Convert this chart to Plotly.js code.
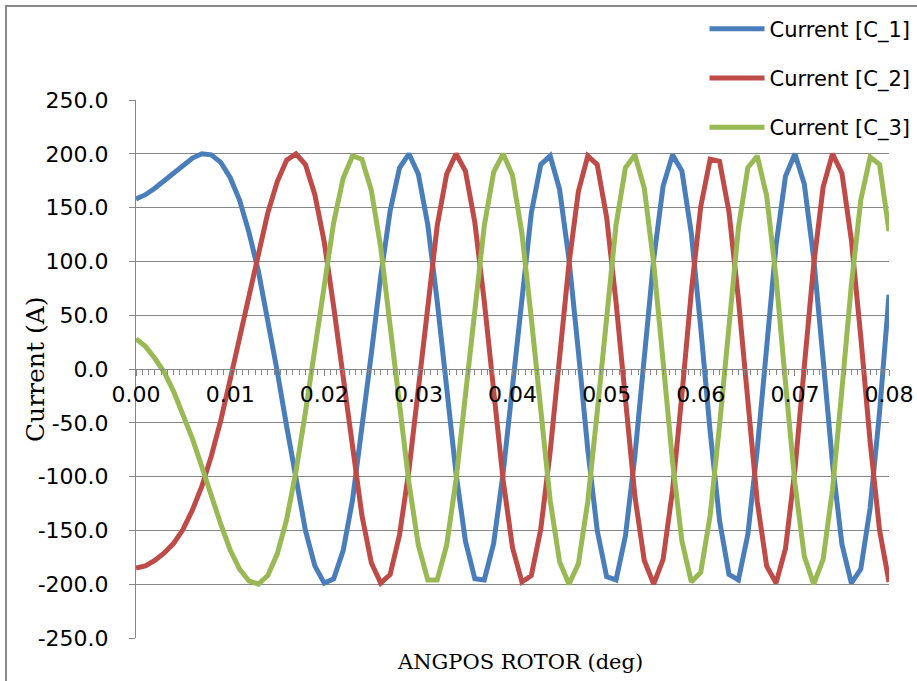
<!DOCTYPE html>
<html>
<head>
<meta charset="utf-8">
<script src="https://cdn.plot.ly/plotly-3.0.1.min.js"></script>
<style>
  html, body { margin: 0; padding: 0; background: #ffffff; }
  #wrap { position: relative; width: 917px; height: 681px; overflow: hidden; }
  #chart { position: absolute; left: 0; top: 0; width: 917px; height: 681px; }
  #frame { position: absolute; left: 5px; top: 5px; width: 1000px; height: 1000px;
           border-left: 2px solid #8a8a8a; border-top: 2px solid #8a8a8a; pointer-events: none; }
</style>
</head>
<body>
<div id="wrap">
  <div id="chart"></div>
  <div id="frame"></div>
</div>
<script>
// Sampling of the rotor angle axis
const X_START = 0;
const X_STEP = 0.001;

// Series names
const seriesNames = ['Current [C_1]', 'Current [C_2]', 'Current [C_3]'];

// Current [C_1] (A)
const currentC1 = [
  158, 162, 168, 175, 183, 190, 196, 200, 199, 192,
  178, 157, 127, 91, 47, -2, -53, -104, -150, -183,
  -199, -195, -169, -122, -58, 14, 86, 147, 187, 200,
  181, 134, 63, -17, -97, -160, -195, -196, -162, -97,
  -14, 72, 145, 190, 198, 167, 102, 16, -75, -150,
  -193, -196, -155, -81, 10, 102, 170, 199, 184, 126,
  38, -58, -141, -191, -196, -154, -75, 23, 115, 179,
  200, 172, 103, 9, -88, -163, -199, -186, -129, -40,
  69
];

// Current [C_2] (A)
const currentC2 = [
  -185, -183, -178, -171, -162, -149, -131, -109, -81, -48,
  -10, 30, 70, 109, 145, 174, 194, 200, 190, 162,
  118, 58, -9, -77, -136, -180, -199, -191, -154, -94,
  -17, 62, 133, 181, 200, 184, 136, 63, -21, -103,
  -166, -198, -192, -149, -77, 12, 98, 165, 198, 190,
  141, 62, -31, -118, -178, -200, -177, -113, -24, 72,
  151, 195, 193, 146, 65, -33, -123, -183, -199, -167,
  -94, 2, 97, 169, 200, 182, 120, 30, -68, -150,
  -198
];

// Current [C_3] (A)
const currentC3 = [
  28, 21, 10, -3, -21, -42, -65, -91, -118, -144,
  -168, -186, -197, -200, -192, -172, -140, -95, -40, 21,
  81, 136, 177, 198, 195, 166, 113, 43, -33, -106,
  -164, -196, -196, -164, -103, -24, 58, 133, 183, 200,
  180, 126, 47, -42, -122, -179, -200, -181, -123, -40,
  52, 134, 187, 199, 168, 98, 7, -86, -160, -198,
  -189, -136, -52, 45, 131, 187, 198, 161, 85, -12,
  -106, -174, -200, -177, -112, -19, 78, 157, 197, 190,
  128
];

// Y axis tick values and labels
const yTickValues = [-250, -200, -150, -100, -50, 0, 50, 100, 150, 200, 250];
const yTickLabels = ['-250.0', '-200.0', '-150.0', '-100.0', '-50.0', '0.0', '50.0', '100.0', '150.0', '200.0', '250.0'];

const seriesColors = ['#4A7EBB', '#BE4B48', '#98B954'];
const seriesValues = [currentC1, currentC2, currentC3];

const traces = seriesValues.map((vals, k) => ({
  type: 'scatter',
  mode: 'lines',
  name: seriesNames[k],
  legendgroup: 'g' + k,
  x0: X_START,
  dx: X_STEP,
  y: vals,
  line: { color: seriesColors[k], width: 5 },
  hoverinfo: 'x+y+name'
}));

const grey = '#868686';
const layout = {
  width: 917,
  height: 681,
  margin: { l: 136, r: 28, t: 100, b: 43, autoexpand: false },
  paper_bgcolor: '#ffffff',
  plot_bgcolor: '#ffffff',
  showlegend: true,
  legend: {
    x: 0.755, xanchor: 'left',
    y: 1.17, yanchor: 'top',
    font: { family: 'DejaVu Sans', size: 21, color: '#000000' },
    itemwidth: 55,
    tracegroupgap: 19,
    traceorder: 'grouped',
    bgcolor: 'rgba(0,0,0,0)'
  },
  xaxis: {
    range: [0, 0.08],
    anchor: 'free',
    position: 0.5,
    showline: true,
    linecolor: grey,
    linewidth: 1,
    showgrid: false,
    zeroline: false,
    tick0: 0,
    dtick: 0.01,
    tickformat: '.2f',
    ticks: 'outside',
    ticklen: 6,
    tickcolor: grey,
    tickfont: { family: 'DejaVu Sans', size: 22, color: '#000000' },
    minor: { tick0: 0, dtick: 0.01 / 15, ticks: 'outside', ticklen: 5, tickcolor: grey, showgrid: false }
  },
  yaxis: {
    range: [-250, 250],
    tickmode: 'array',
    tickvals: yTickValues,
    ticktext: yTickLabels,
    showgrid: true,
    gridcolor: grey,
    gridwidth: 1,
    showline: true,
    linecolor: grey,
    linewidth: 1,
    zeroline: false,
    ticks: 'outside',
    ticklen: 6,
    tickcolor: grey,
    ticklabelstandoff: 16,
    tickfont: { family: 'DejaVu Sans', size: 22, color: '#000000' }
  },
  annotations: [{
    text: 'ANGPOS ROTOR (deg)',
    xref: 'paper', yref: 'paper',
    x: 0.51, y: -0.045,
    xanchor: 'center', yanchor: 'middle',
    showarrow: false,
    font: { family: 'DejaVu Serif', size: 21, color: '#000000' }
  }, {
    text: 'Current (A)',
    textangle: -90,
    xref: 'paper', yref: 'paper',
    x: -0.134, y: 0.5,
    xanchor: 'center', yanchor: 'middle',
    showarrow: false,
    font: { family: 'DejaVu Serif', size: 25, color: '#000000' }
  }]
};

Plotly.newPlot('chart', traces, layout, { displayModeBar: false, staticPlot: true });
</script>
</body>
</html>
